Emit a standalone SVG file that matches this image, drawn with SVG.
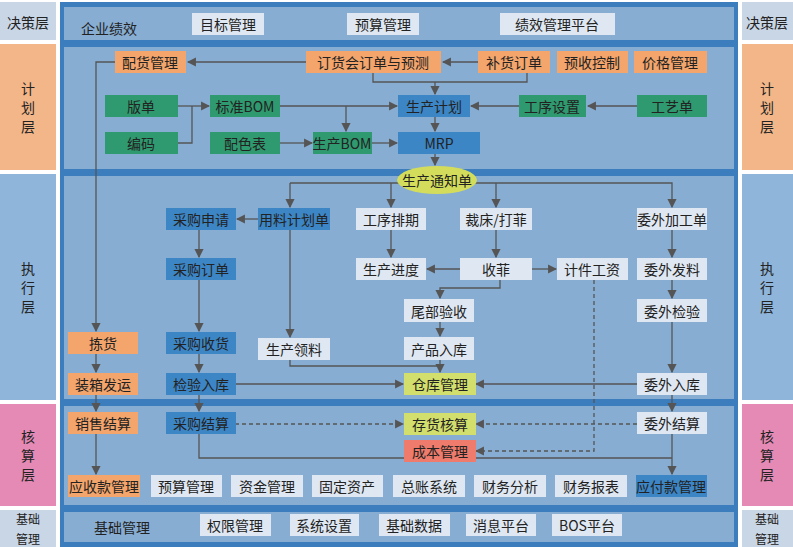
<svg xmlns="http://www.w3.org/2000/svg" width="793" height="547" viewBox="0 0 793 547">
<defs>
<style>
text{font-family:"Noto Sans CJK SC","Noto Sans",sans-serif;font-size:14px;fill:#222;text-anchor:middle;dominant-baseline:central}
.sm{font-size:12px}
.o{fill:#f4a56c}.g{fill:#2f9a6f}.b{fill:#3d86c6}.l{fill:#dfe8f2}.y{fill:#d3df6c}.r{fill:#ee7b6b}
.c{stroke:#555;stroke-width:1.3;fill:none}
.d{stroke:#555;stroke-width:1.3;fill:none;stroke-dasharray:4 3}
.sep{fill:#3b7dbd}
</style>
<marker id="a" viewBox="0 0 8 8" refX="7" refY="4" markerWidth="7" markerHeight="7" orient="auto"><path d="M0,0L8,4L0,8z" fill="#555"/></marker>
</defs>
<rect width="793" height="547" fill="#fff"/>
<g id="side">
<rect x="0" y="2" width="56" height="38" fill="#c9d6e6"/><rect x="742" y="2" width="51" height="38" fill="#c9d6e6"/>
<rect x="0" y="44" width="56" height="126" fill="#f3b689"/><rect x="742" y="44" width="51" height="126" fill="#f3b689"/>
<rect x="0" y="174" width="56" height="226" fill="#8fb5da"/><rect x="742" y="174" width="51" height="226" fill="#8fb5da"/>
<rect x="0" y="404" width="56" height="102" fill="#e58ab5"/><rect x="742" y="404" width="51" height="102" fill="#e58ab5"/>
<rect x="0" y="510" width="56" height="37" fill="#c9d6e6"/><rect x="742" y="510" width="51" height="37" fill="#c9d6e6"/>
<text x="28" y="22">决策层</text><text x="767" y="22">决策层</text>
<text x="28" y="88">计</text><text x="28" y="107">划</text><text x="28" y="126">层</text>
<text x="767" y="88">计</text><text x="767" y="107">划</text><text x="767" y="126">层</text>
<text x="28" y="268">执</text><text x="28" y="287">行</text><text x="28" y="306">层</text>
<text x="767" y="268">执</text><text x="767" y="287">行</text><text x="767" y="306">层</text>
<text x="28" y="436">核</text><text x="28" y="455">算</text><text x="28" y="474">层</text>
<text x="767" y="436">核</text><text x="767" y="455">算</text><text x="767" y="474">层</text>
<text class="sm" x="28" y="518">基础</text><text class="sm" x="28" y="538">管理</text>
<text class="sm" x="767" y="518">基础</text><text class="sm" x="767" y="538">管理</text>
</g>
<rect x="60" y="2" width="678" height="545" fill="#87add3"/>
<rect x="60" y="2" width="678" height="5" class="sep"/>
<rect x="60" y="40" width="678" height="7" class="sep"/>
<rect x="60" y="169" width="678" height="7" class="sep"/>
<rect x="60" y="399" width="678" height="7" class="sep"/>
<rect x="60" y="505" width="678" height="7" class="sep"/>
<rect x="60" y="542" width="678" height="5" class="sep"/>
<rect x="60" y="2" width="4" height="545" class="sep"/><rect x="734" y="2" width="4" height="545" class="sep"/>
<g id="connectors">
<path class="c" d="M306,62H188" marker-end="url(#a)"/>
<path class="c" d="M478,62H443" marker-end="url(#a)"/>
<path class="c" d="M373,73V82H527V73M435,82V94" marker-end="url(#a)"/>
<path class="c" d="M178,106H209" marker-end="url(#a)"/>
<path class="c" d="M178,143H192V106"/>
<path class="c" d="M280,106H397" marker-end="url(#a)"/>
<path class="c" d="M346,106V131" marker-end="url(#a)"/>
<path class="c" d="M519,106H471" marker-end="url(#a)"/>
<path class="c" d="M637,106H588" marker-end="url(#a)"/>
<path class="c" d="M280,143H312" marker-end="url(#a)"/>
<path class="c" d="M372,143H397" marker-end="url(#a)"/>
<path class="c" d="M435,117V131" marker-end="url(#a)"/>
<path class="c" d="M435,154V165" marker-end="url(#a)"/>
<path class="c" d="M115,62H96V331" marker-end="url(#a)"/>
<path class="c" d="M290,183H672V207" marker-end="url(#a)"/>
<path class="c" d="M290,183V207" marker-end="url(#a)"/>
<path class="c" d="M391,183V207" marker-end="url(#a)"/>
<path class="c" d="M496,183V207" marker-end="url(#a)"/>
<path class="c" d="M258,219H237" marker-end="url(#a)"/>
<path class="c" d="M290,230V337" marker-end="url(#a)"/>
<path class="c" d="M199,230V257" marker-end="url(#a)"/>
<path class="c" d="M199,280V331" marker-end="url(#a)"/>
<path class="c" d="M199,354V372" marker-end="url(#a)"/>
<path class="c" d="M235,384H403" marker-end="url(#a)"/>
<path class="c" d="M391,230V257" marker-end="url(#a)"/>
<path class="c" d="M496,230V257" marker-end="url(#a)"/>
<path class="c" d="M460,269H427" marker-end="url(#a)"/>
<path class="c" d="M532,269H556" marker-end="url(#a)"/>
<path class="c" d="M500,280V288H440V298" marker-end="url(#a)"/>
<path class="c" d="M440,322V336" marker-end="url(#a)"/>
<path class="c" d="M290,360V366H440M440,360V372" marker-end="url(#a)"/>
<path class="c" d="M672,230V257" marker-end="url(#a)"/>
<path class="c" d="M672,280V298" marker-end="url(#a)"/>
<path class="c" d="M672,322V372" marker-end="url(#a)"/>
<path class="c" d="M637,384H476" marker-end="url(#a)"/>
<path class="c" d="M672,395V411" marker-end="url(#a)"/>
<path class="c" d="M96,354V372" marker-end="url(#a)"/>
<path class="c" d="M96,395V411" marker-end="url(#a)"/>
<path class="c" d="M96,434V474" marker-end="url(#a)"/>
<path class="c" d="M199,395V411" marker-end="url(#a)"/>
<path class="d" d="M235,424H403" marker-end="url(#a)"/>
<path class="d" d="M637,424H476" marker-end="url(#a)"/>
<path class="d" d="M594,280V451H476" marker-end="url(#a)"/>
<path class="c" d="M199,434V458H404"/>
<path class="c" d="M672,458H476"/>
<path class="c" d="M672,434V474" marker-end="url(#a)"/>
</g>
<g id="top">
<text x="109" y="28">企业绩效</text>
<g id="n-mbgl"><rect x="192" y="13" width="72" height="22" class="l"/><text x="228" y="24">目标管理</text></g>
<g id="n-ysgl"><rect x="347" y="13" width="72" height="22" class="l"/><text x="383" y="24">预算管理</text></g>
<g id="n-jxpt"><rect x="500" y="13" width="115" height="22" class="l"/><text x="557" y="24">绩效管理平台</text></g>
</g>
<g id="plan">
<g id="n-phgl"><rect x="115" y="51" width="71" height="22" class="o"/><text x="150" y="62">配货管理</text></g>
<g id="n-dhh"><rect x="306" y="51" width="135" height="22" class="o"/><text x="373" y="62">订货会订单与预测</text></g>
<g id="n-bhdd"><rect x="478" y="51" width="72" height="22" class="o"/><text x="514" y="62">补货订单</text></g>
<g id="n-yskz"><rect x="557" y="51" width="71" height="22" class="o"/><text x="592" y="62">预收控制</text></g>
<g id="n-jggl"><rect x="634" y="51" width="73" height="22" class="o"/><text x="670" y="62">价格管理</text></g>
<g id="n-bd"><rect x="105" y="95" width="73" height="22" class="g"/><text x="141" y="106">版单</text></g>
<g id="n-bzbom"><rect x="210" y="95" width="70" height="22" class="g"/><text x="245" y="106">标准BOM</text></g>
<g id="n-scjh"><rect x="398" y="95" width="72" height="22" class="b"/><text x="434" y="106">生产计划</text></g>
<g id="n-gxsz"><rect x="519" y="95" width="67" height="22" class="g"/><text x="552" y="106">工序设置</text></g>
<g id="n-gyd"><rect x="637" y="95" width="70" height="22" class="g"/><text x="672" y="106">工艺单</text></g>
<g id="n-bm"><rect x="105" y="132" width="73" height="22" class="g"/><text x="141" y="143">编码</text></g>
<g id="n-psb"><rect x="210" y="132" width="70" height="22" class="g"/><text x="245" y="143">配色表</text></g>
<g id="n-scbom"><rect x="313" y="132" width="59" height="22" class="g"/><text x="342" y="143">生产BOM</text></g>
<g id="n-mrp"><rect x="398" y="132" width="82" height="22" class="b"/><text x="439" y="143">MRP</text></g>
</g>
<g id="exec">
<g id="n-sctzd"><ellipse cx="437" cy="180" rx="40" ry="14" fill="#d3dd5b"/><text x="437" y="180">生产通知单</text></g>
<g id="n-cgsq"><rect x="166" y="208" width="70" height="22" class="b"/><text x="201" y="219">采购申请</text></g>
<g id="n-ylplan"><rect x="258" y="208" width="72" height="22" class="b"/><text x="294" y="219">用料计划单</text></g>
<g id="n-gxpq"><rect x="356" y="208" width="70" height="22" class="l"/><text x="391" y="219">工序排期</text></g>
<g id="n-cc"><rect x="460" y="208" width="72" height="22" class="l"/><text x="496" y="219">裁床/打菲</text></g>
<g id="n-wwjg"><rect x="637" y="208" width="70" height="22" class="l"/><text x="672" y="219">委外加工单</text></g>
<g id="n-cgdd"><rect x="166" y="258" width="70" height="22" class="b"/><text x="201" y="269">采购订单</text></g>
<g id="n-scjd"><rect x="356" y="258" width="70" height="22" class="l"/><text x="391" y="269">生产进度</text></g>
<g id="n-sf"><rect x="460" y="258" width="72" height="22" class="l"/><text x="496" y="269">收菲</text></g>
<g id="n-jjgz"><rect x="557" y="258" width="71" height="22" class="l"/><text x="592" y="269">计件工资</text></g>
<g id="n-wwfl"><rect x="637" y="258" width="70" height="22" class="l"/><text x="672" y="269">委外发料</text></g>
<g id="n-wbys"><rect x="404" y="299" width="70" height="23" class="l"/><text x="439" y="311">尾部验收</text></g>
<g id="n-wwjy"><rect x="637" y="299" width="70" height="23" class="l"/><text x="672" y="311">委外检验</text></g>
<g id="n-jh"><rect x="68" y="332" width="70" height="22" class="o"/><text x="103" y="343">拣货</text></g>
<g id="n-cgsh"><rect x="166" y="332" width="70" height="22" class="b"/><text x="201" y="343">采购收货</text></g>
<g id="n-scll"><rect x="258" y="338" width="72" height="22" class="l"/><text x="294" y="349">生产领料</text></g>
<g id="n-cprk"><rect x="404" y="337" width="70" height="23" class="l"/><text x="439" y="349">产品入库</text></g>
<g id="n-zxfy"><rect x="68" y="373" width="70" height="22" class="o"/><text x="103" y="384">装箱发运</text></g>
<g id="n-jyrk"><rect x="166" y="373" width="70" height="22" class="b"/><text x="201" y="384">检验入库</text></g>
<g id="n-ckgl"><rect x="404" y="373" width="72" height="22" class="y"/><text x="440" y="384">仓库管理</text></g>
<g id="n-wwrk"><rect x="637" y="373" width="70" height="22" class="l"/><text x="672" y="384">委外入库</text></g>
</g>
<g id="acct">
<g id="n-xsjs"><rect x="68" y="412" width="70" height="22" class="o"/><text x="103" y="423">销售结算</text></g>
<g id="n-cgjs"><rect x="166" y="412" width="70" height="22" class="b"/><text x="201" y="423">采购结算</text></g>
<g id="n-chhs"><rect x="404" y="413" width="72" height="22" class="y"/><text x="440" y="424">存货核算</text></g>
<g id="n-wwjs"><rect x="637" y="412" width="70" height="22" class="l"/><text x="672" y="423">委外结算</text></g>
<g id="n-cbgl"><rect x="404" y="440" width="72" height="22" class="r"/><text x="440" y="451">成本管理</text></g>
<g id="n-yskgl"><rect x="68" y="475" width="72" height="22" class="o"/><text x="104" y="486">应收款管理</text></g>
<g id="n-ysgl2"><rect x="151" y="475" width="71" height="22" class="l"/><text x="186" y="486">预算管理</text></g>
<g id="n-zjgl"><rect x="231" y="475" width="72" height="22" class="l"/><text x="267" y="486">资金管理</text></g>
<g id="n-gdzc"><rect x="312" y="475" width="71" height="22" class="l"/><text x="347" y="486">固定资产</text></g>
<g id="n-zzxt"><rect x="393" y="475" width="72" height="22" class="l"/><text x="429" y="486">总账系统</text></g>
<g id="n-cwfx"><rect x="474" y="475" width="72" height="22" class="l"/><text x="510" y="486">财务分析</text></g>
<g id="n-cwbb"><rect x="555" y="475" width="72" height="22" class="l"/><text x="591" y="486">财务报表</text></g>
<g id="n-yfkgl"><rect x="636" y="475" width="71" height="22" class="b"/><text x="671" y="486">应付款管理</text></g>
</g>
<g id="base">
<text x="122" y="527">基础管理</text>
<g id="n-qx"><rect x="200" y="514" width="71" height="22" class="l"/><text x="235" y="525">权限管理</text></g>
<g id="n-xt"><rect x="290" y="514" width="69" height="22" class="l"/><text x="324" y="525">系统设置</text></g>
<g id="n-jc"><rect x="379" y="514" width="71" height="22" class="l"/><text x="414" y="525">基础数据</text></g>
<g id="n-xx"><rect x="466" y="514" width="70" height="22" class="l"/><text x="501" y="525">消息平台</text></g>
<g id="n-bos"><rect x="552" y="514" width="70" height="22" class="l"/><text x="587" y="525">BOS平台</text></g>
</g>
</svg>
